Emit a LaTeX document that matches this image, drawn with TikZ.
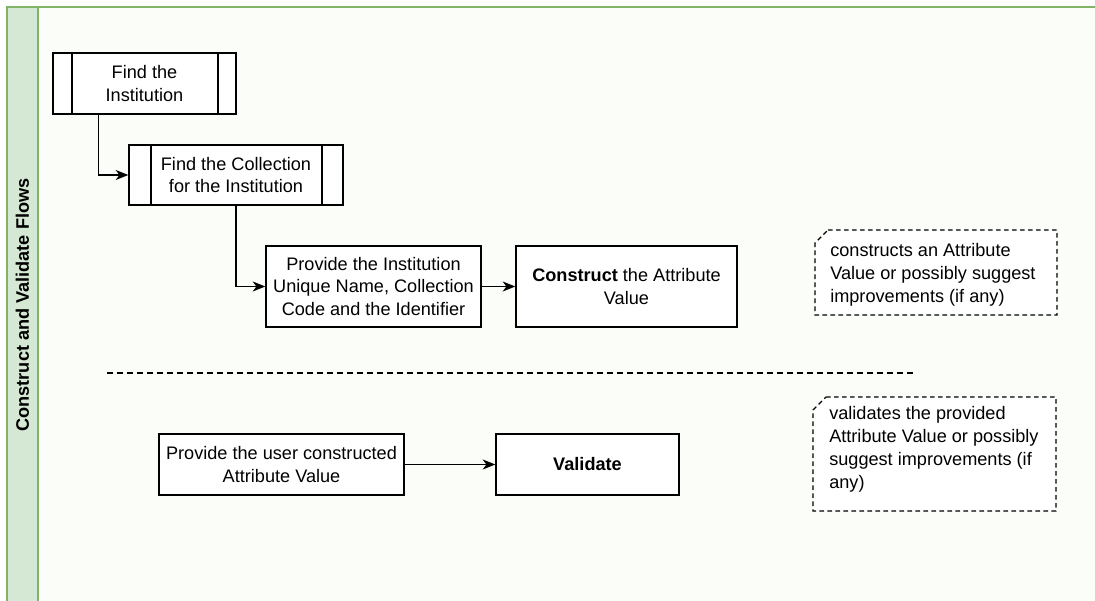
\documentclass[tikz,border=0pt]{standalone}
\usepackage{fontspec}
\setmainfont{Liberation Sans}
\usetikzlibrary{arrows.meta}
\definecolor{lanefill}{HTML}{D5E8D4}
\definecolor{laneline}{HTML}{82B366}
\definecolor{bodyfill}{HTML}{FBFDF8}
\begin{document}
\begin{tikzpicture}[x=0.75pt,y=-0.75pt,
  txt/.style={font=\fontsize{13.6}{17.2}\selectfont},
  box/.style={draw=black, fill=white, line width=1pt, align=center, inner sep=0pt, txt},
  arr/.style={-{Stealth[length=9.5pt,width=7.5pt,inset=2.8pt]}, line width=1pt},
  note/.style={draw=black, dash pattern=on 3.5pt off 2.5pt, line width=0.9pt, fill=white}]
\useasboundingbox (0,0) rectangle (1095,600);
\fill[white] (0,0) rectangle (1095,600);
% swimlane
\draw[laneline, fill=bodyfill, line width=0.8pt] (7,7) rectangle (1110,620);
\draw[laneline, fill=lanefill, line width=0.8pt] (7,7) rectangle (38,620);
\node[rotate=90, font=\bfseries\fontsize{13.6}{16}\selectfont] (lane) at (22.5,305) {Construct and Validate Flows};
% process boxes
\node[box, minimum width=183*0.75pt, minimum height=61*0.75pt] (inst) at (144.5,83.5) {Find the\\Institution};
\draw[line width=1pt] (72,53) -- (72,114) (218,53) -- (218,114);
\node[box, minimum width=214*0.75pt, minimum height=60*0.75pt] (coll) at (236,175) {Find the Collection\\for the Institution};
\draw[line width=1pt] (151,145) -- (151,205) (322,145) -- (322,205);
\node[box, minimum width=215*0.75pt, minimum height=81*0.75pt] (prov) at (373.5,286.5) {Provide the Institution\\Unique Name, Collection\\Code and the Identifier};
\node[box, minimum width=221*0.75pt, minimum height=81*0.75pt] (cons) at (626.5,286.5) {\textbf{Construct} the Attribute\\Value};
\node[box, minimum width=245*0.75pt, minimum height=61*0.75pt] (user) at (281.5,464.5) {Provide the user constructed\\Attribute Value};
\node[box, minimum width=183*0.75pt, minimum height=61*0.75pt] (vali) at (587.5,464.5) {\textbf{Validate}};
% connectors
\draw[arr] (inst.south west) ++(46,0) |- (coll.west);
\draw[arr] (coll.south) |- (prov.west);
\draw[arr] (prov.east) -- (cons.west);
\draw[arr] (user.east) -- (vali.west);
% separator
\coordinate (sepA) at (107,373);
\coordinate (sepB) at (916,373);
\draw[line width=0.8pt, dash pattern=on 4.5pt off 3pt] (sepA) -- (sepB);
% notes
\draw[note] (828,230) -- (1057,230) -- (1057,315) -- (815,315) -- (815,243) -- cycle;
\node[align=left, anchor=north west, inner sep=0pt, txt] (n1) at (830,243) {constructs an Attribute\\Value or possibly suggest\\improvements (if any)};
\draw[note] (826,397) -- (1056,397) -- (1056,511) -- (813,511) -- (813,410) -- cycle;
\node[align=left, anchor=north west, inner sep=0pt, txt] (n2) at (829,406) {validates the provided\\Attribute Value or possibly\\suggest improvements (if\\any)};
\end{tikzpicture}
\end{document}
